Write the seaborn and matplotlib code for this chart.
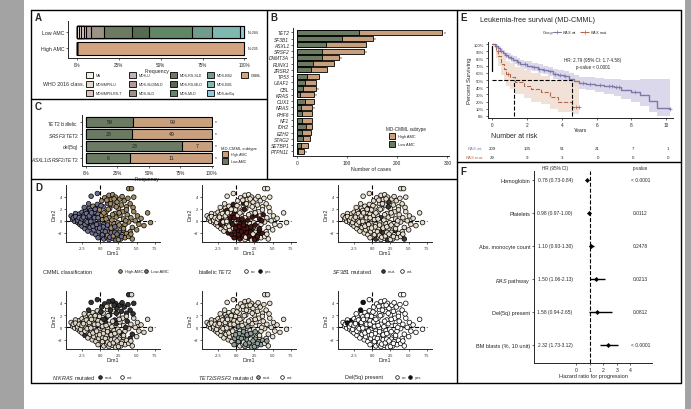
import numpy as np
import pandas as pd
import matplotlib
matplotlib.use("Agg")
import matplotlib.pyplot as plt
import seaborn as sns
from matplotlib.lines import Line2D
from matplotlib.patches import Rectangle

# ------------------------------------------------------------------ DATA
# Panel A
who_classes = ["NA", "MDS/MPN-U", "MDS/MPN-RS-T", "MDS-U", "MDS-SLD/MLD", "MDS-SLD",
               "MDS-RS-SLD", "MDS-RS-MLD", "MDS-MLD", "MDS-EB2", "MDS-EB1", "MDS-del5q", "CMML"]
who_colors = ["#f4efe2", "#e3d9d3", "#d9c3bb", "#c4b2b0", "#b09a98", "#9b9484",
              "#6d7a62", "#566b4f", "#5f8766", "#6f9c8c", "#7eb8ae", "#8fcbdc", "#d3a47f"]
low_amc_counts = [3, 4, 4, 4, 9, 22, 48, 29, 72, 34, 48, 7, 0]
high_amc_counts = [0, 0, 0, 0, 0, 0, 0, 0, 0, 0, 0, 0, 205]
amc_groups = ["Low AMC", "High AMC"]
amc_n_labels = ["N=284", "N=205"]

# Panel B
genes = ["TET2", "SF3B1", "ASXL1", "SRSF2", "DNMT3A", "RUNX1", "ZRSR2", "TP53", "U2AF1", "CBL",
         "KRAS", "CUX1", "NRAS", "PHF6", "NF1", "IDH2", "EZH2", "STAG2", "SETBP1", "PTPN11"]
gene_total = [289, 151, 137, 133, 83, 73, 59, 43, 37, 37, 33, 33, 29, 29, 29, 29, 27, 25, 21, 13]
gene_low = [123, 90, 57, 50, 50, 32, 28, 20, 15, 11, 5, 15, 7, 10, 9, 17, 10, 12, 7, 1]
gene_star = [1, 1, 0, 1, 1, 0, 0, 0, 0, 1, 1, 0, 1, 0, 0, 0, 0, 0, 0, 1]

# Panel C
c_labels = [r"$\it{TET2}$ biallelic", r"$\it{SRSF2/TET2}$", "del(5q)", r"$\it{ASXL1/SRSF2/TET2}$"]
c_low = [59, 28, 23, 6]
c_high = [99, 49, 7, 11]

# Panel D (PCA coordinates)
dim1 = [-4.0, -3.8, -3.6, -3.5, -3.3, -3.2, -3.1, -3.0, -2.9, -2.8,
        -2.7, -2.6, -2.5, -2.5, -2.4, -2.3, -2.2, -2.1, -2.0, -2.0,
        -1.9, -1.8, -1.7, -1.7, -1.6, -1.5, -1.4, -1.4, -1.3, -1.2,
        -1.1, -1.1, -1.0, -0.9, -0.9, -0.8, -0.7, -0.6, -0.6, -0.5,
        -0.4, -0.4, -0.3, -0.2, -0.2, -0.1, -0.1, -2.2, -1.6, -3.4,
        -1.25, -0.4, 0.2, 0.4, 0.6, 0.8, 1.0, 1.2, 1.3, 1.5,
        1.7, 1.8, 2.0, 2.1, 2.3, 2.5, 2.7, 2.9, 3.1, 3.3,
        3.6, 3.8, 3.9, 4.3, 4.6, 4.1, 0.1, 0.9, 1.9, 3.0,
        0.3, 0.5, 0.7, 1.0, 1.2, 1.4, 1.6, 1.9, 2.2, 2.4,
        2.7, 2.9, 3.2, 3.4, 3.7, 3.9, 4.2, 4.4, 4.6, 4.8,
        5.1, 5.3, 5.6, 6.0, 6.5, 6.9, 5.0, 4.1, 3.6, 0.0,
        0.1, 0.3, 0.5, 0.6, 0.8, 0.9, 1.1, 1.2, 1.4, 1.6,
        1.7, 1.9, 2.1, 2.2, 2.4, 2.6, 2.8, 3.0, 3.2, 3.4,
        3.6, 3.9, 4.2, 4.4, 0.4, 1.0, 1.5, 2.0, 2.6, -0.3,
        -3.7, -3.4, -3.1, -2.9, -2.7, -2.5, -2.3, -2.1, -1.9, -1.8,
        -1.5, -1.3, -1.2, -1.0, -0.8, -0.7, -0.5, -0.3, -0.1, 0.2,
        0.3, 0.7, 1.0, 1.3, 1.5, 1.8, 2.0, 2.3, 2.5, 2.9,
        0.5, 1.1, 1.4, 2.2, 2.6, 3.5, 0.8, 1.7, 4.5, 3.2]
dim2 = [0.8, 0.2, 0.6, -0.1, 0.4, 0.9, -0.3, 0.3, 1.1, -0.6,
        0.6, 0.0, 1.4, -0.9, 0.4, -0.3, 1.0, -1.3, 0.1, 1.7,
        -0.7, 0.7, -1.7, 1.3, -0.2, 2.1, 0.4, -1.1, 1.7, -0.5,
        -2.0, 0.9, 2.4, -1.5, 0.1, 1.4, -0.8, 2.0, -2.3, 0.6,
        -1.2, 2.7, 1.1, -0.4, -1.8, 1.8, 0.3, 2.2, 2.8, 1.2,
        4.05, 4.5, 3.3, 2.3, 3.8, 1.5, 2.9, 4.2, 2.0, 3.5,
        4.3, 2.6, 1.2, 3.9, 3.1, 2.0, 3.6, 2.6, 1.5, 3.3,
        2.3, 3.7, 5.3, 5.3, 3.9, 2.8, 2.5, 3.4, 3.6, 4.0,
        0.2, -0.6, 0.8, -0.2, 0.5, -0.9, 0.1, -0.5, 0.6, -0.3,
        0.9, -1.0, 0.3, -0.6, 1.0, -0.2, 0.5, -1.1, 1.5, 0.0,
        0.8, -0.6, 0.4, -0.8, 1.3, -0.3, -1.5, -1.8, 1.8, -0.9,
        -2.6, -1.6, -3.0, -2.2, -1.3, -2.7, -1.9, -3.1, -2.4, -1.6,
        -2.9, -2.1, -3.2, -1.5, -2.6, -1.9, -3.0, -2.3, -1.6, -2.8,
        -2.1, -2.6, -2.2, -3.0, -1.0, -0.7, -1.2, -1.0, -0.7, -2.8,
        0.5, 0.7, 0.1, 0.5, -0.3, 0.3, 0.6, -0.6, 1.2, -0.2,
        0.8, -0.1, 1.3, -0.9, 0.5, 1.9, -0.6, 0.5, -1.2, 0.9,
        -2.3, -1.8, -2.4, -2.7, -2.0, -2.5, -1.9, -2.2, -3.1, -2.6,
        1.3, 1.9, 2.8, 2.3, 1.3, 0.0, 0.3, 1.0, 2.2, -1.3]
cls_amc = ("LLLLLLLLLL LLLLLLLLHL LLLLLLLLLL LLHLLLLLLL LLLLLHLLLL "
           "LLHLHHLHHH HHHHHHHHHH HHHHHHLHHH "
           "HLHHHHHHHH HHHHHHHHHH HHHHHHHHHL "
           "LLLHLLHLLH LHLHHLHHHH HHHHLLHLHL "
           "LLLLLLLLLL LLLLLLLLLH LLHLLHLLHL HHHHHHHHHH")
cls_tet2 = ("NNNNNNNNNN NNNNNNNNYN NNNNYNNNYN YNNNYNYNYN NYYNYNNNNN "
            "NNNNNNYNNN NNNNNNNNNN NNNNNNNNNN "
            "YYNYNYYNYN YNYNYNNNNN NNNNNNNNNY "
            "YYYNYYYNYY YYNYYNYYYN YNNNYYYYYY "
            "NNNNNNNYNN NNNNYNYYYN YYYNYYYNYY NYNNNYYNNY")
cls_sf3b1 = ("WWWWWWWWWW WWWWWWWWWW WWWMWWWWWW WWWWWWWMWW WWWWWWWWWW "
             "WWWWWWWWWW WWWWMWWWWW WWWWWWWWWW "
             "WWWWMWWWWW WWWWWWWWWW WWWWWWWWWW "
             "WWMWWWMWWW WWMWWWWWMW WWWMWWWWWW "
             "WWWWWWWWWW WWWWWWWWWW WWWWMWWWWW WWWMWWWWWW")
cls_nkras = ("WWWWWWWWWW WWWWWWWMWW WWWWWWWWWW WWWWWWWWWM WWWWWWWWMW "
             "MMMWMMWMMW MWMMMWMMWM MMMWMMMWMM "
             "WWMWWMWWMW WMWWMWWMWW WWWWWWWMWW "
             "WWWWWWWWWW WWWWWWWWWW WWWWWWWWWW "
             "WWWWWWWWWW WWWWWWWWWW WWWWWWWWWW MWMMWMWWMW")
cls_tet2srsf2 = ("WWWWWWWWWW WWWWMWWWWW WWWWWWWWMW WWWWWWWMWW WWWWMWWWWW "
                 "WWWWWWWWWW WWWWWWWWWW WWWWWWWWWW "
                 "MWWMWWMWWW WMWWWWWWWW WWWWWWWWWM "
                 "MMWMMWMMWM MWMMWMMMWM MWMWMMMMMM "
                 "WWWWWWWWWW WWWWWWWWMW MMWMMMWMMM WWWWWWWWWW")
cls_del5q = ("NNYNNYNNYN NNNNNNNNNN NYNNNNNNNN NNNNNNNNNN NNNNNNNNYN "
             "YNNNNNNNNN NNNNNNNNNN NNNNNNNNNN "
             "NNNNNNNNNN NNNNNNNNNN NNNNNNNNNN "
             "NNNNNNNNNN NNNNNNNNNN NNNNNNNNNN "
             "NYNNNNNNNN NNNNNNNNNN NNNNNNNNNN NNNNNNNNNN")

# Panel E (Kaplan-Meier)
wt_time = [0, 0.15, 0.3, 0.45, 0.6, 0.75, 0.9, 1.05, 1.2, 1.4, 1.6, 1.8, 2.0, 2.3, 2.6, 2.9,
           3.2, 3.5, 3.8, 4.1, 4.4, 4.7, 5.0, 5.4, 5.9, 6.4, 7.0, 7.4, 8.0, 8.5, 9.0, 9.5, 10.2]
wt_surv = [1.00, 0.97, 0.94, 0.91, 0.88, 0.85, 0.82, 0.80, 0.78, 0.75, 0.73, 0.72, 0.70, 0.68, 0.66, 0.64,
           0.62, 0.59, 0.57, 0.55, 0.52, 0.49, 0.46, 0.45, 0.43, 0.41, 0.40, 0.36, 0.33, 0.29, 0.21, 0.11, 0.10]
wt_lo = [1.00, 0.95, 0.91, 0.88, 0.84, 0.81, 0.78, 0.75, 0.73, 0.70, 0.68, 0.66, 0.64, 0.62, 0.60, 0.58,
         0.55, 0.52, 0.50, 0.47, 0.44, 0.41, 0.38, 0.36, 0.33, 0.31, 0.28, 0.23, 0.19, 0.14, 0.06, 0.00, 0.00]
wt_hi = [1.00, 0.99, 0.97, 0.95, 0.92, 0.89, 0.87, 0.85, 0.83, 0.80, 0.78, 0.77, 0.76, 0.74, 0.72, 0.70,
         0.68, 0.66, 0.64, 0.62, 0.60, 0.57, 0.54, 0.54, 0.53, 0.52, 0.52, 0.50, 0.50, 0.51, 0.51, 0.51, 0.51]
wt_censor = [0.2, 0.5, 0.8, 1.1, 1.5, 1.9, 2.4, 2.7, 3.0, 3.3, 3.6, 3.9, 4.2, 5.2, 5.6, 6.2, 6.7, 6.9,
             7.1, 7.3, 8.2, 10.2]
mut_time = [0, 0.2, 0.35, 0.5, 0.65, 0.8, 1.0, 1.3, 1.8, 2.2, 2.8, 3.3, 3.8, 4.6, 5.0]
mut_surv = [1.00, 0.90, 0.83, 0.72, 0.65, 0.58, 0.54, 0.47, 0.42, 0.37, 0.33, 0.26, 0.20, 0.12, 0.12]
mut_lo = [1.00, 0.80, 0.70, 0.57, 0.49, 0.42, 0.37, 0.30, 0.25, 0.20, 0.16, 0.10, 0.06, 0.02, 0.02]
mut_hi = [1.00, 1.00, 0.97, 0.89, 0.83, 0.77, 0.74, 0.68, 0.64, 0.60, 0.56, 0.50, 0.48, 0.50, 0.50]
mut_censor = [0.3, 0.9, 4.8, 5.0]
median_wt, median_mut = 4.6, 1.25
risk_times = [0, 2, 4, 6, 8, 10]
risk_wt = [209, 105, 51, 21, 7, 1]
risk_mut = [29, 9, 3, 0, 0, 0]

# Panel F (forest)
covariates = ["Hemoglobin", "Platelets", "Abs. monocyte count", r"$\it{RAS}$ pathway",
              "Del(5q) present", "BM blasts (%, 10 unit)"]
hr = [0.78, 0.98, 1.10, 1.50, 1.58, 2.32]
ci_lo = [0.73, 0.97, 0.93, 1.06, 0.94, 1.73]
ci_hi = [0.84, 1.00, 1.30, 2.13, 2.65, 3.12]
pvals = ["< 0.0001", "0.0112", "0.2478", "0.0213", "0.0812", "< 0.0001"]

# ------------------------------------------------------------------ STYLE
sns.set_theme(style="ticks")
plt.rcParams['font.family'] = ['Liberation Sans', 'DejaVu Sans']
plt.rcParams['mathtext.fontset'] = 'custom'
plt.rcParams['mathtext.rm'] = 'Liberation Sans'
plt.rcParams['mathtext.it'] = 'Liberation Sans:italic'
plt.rcParams['axes.linewidth'] = 0.7
plt.rcParams['xtick.major.width'] = 0.5
plt.rcParams['ytick.major.width'] = 0.5
plt.rcParams['xtick.major.size'] = 1.5
plt.rcParams['ytick.major.size'] = 1.5
plt.rcParams['xtick.major.pad'] = 1.2
plt.rcParams['ytick.major.pad'] = 1.2

TAN = "#c9a07e"
GREEN = "#6b7a62"
WT_COL = "#7d78a6"
MUT_COL = "#b0664a"

W, H = 691, 410
fig = plt.figure(figsize=(6.91, 4.10), dpi=100)
fig.patch.set_facecolor("white")


def fx(x):
    return x / W


def fy(y):
    return 1 - y / H


def px_axes(x0, y0, x1, y1):
    ax = fig.add_axes([x0 / W, 1 - y1 / H, (x1 - x0) / W, (y1 - y0) / H])
    ax.set_facecolor("none")
    return ax


def fline(x0, y0, x1, y1, **kw):
    fig.add_artist(Line2D([fx(x0), fx(x1)], [fy(y0), fy(y1)], transform=fig.transFigure,
                          color=kw.get("color", "black"), lw=kw.get("lw", 1.0), ls=kw.get("ls", "-")))


def fmarker(x, y, fc, ms=2.6):
    fig.add_artist(Line2D([fx(x)], [fy(y)], transform=fig.transFigure, marker="o", ms=ms,
                          mfc=fc, mec="black", mew=0.5, lw=0))


def fpatch(x, y, w, h, fc):
    fig.add_artist(Rectangle((fx(x), fy(y + h)), w / W, h / H, transform=fig.transFigure,
                             facecolor=fc, edgecolor="black", lw=0.6))


# page background bands
fig.add_artist(Rectangle((0, 0), 24 / W, 1, transform=fig.transFigure, color="#a3a3a3", lw=0))
fig.add_artist(Rectangle((685 / W, 0), 6 / W, 1, transform=fig.transFigure, color="#a3a3a3", lw=0))

# frame
fline(31, 11, 681, 11)
fline(31, 11, 31, 384)
fline(31, 384, 681, 384)
fline(681, 11, 681, 384)
fline(267, 11, 267, 180)
fline(457, 11, 457, 384)
fline(31, 100, 267, 100)
fline(31, 180, 457, 180)
fline(457, 163, 681, 163)

for lab, (x, y) in {"A": (35, 18), "B": (270, 18), "C": (35, 107), "D": (35, 188),
                    "E": (460, 18), "F": (460, 172)}.items():
    fig.text(fx(x), fy(y), lab, fontsize=7, fontweight="bold", ha="left", va="center")

# ------------------------------------------------------------------ PANEL A
axA = px_axes(68, 22, 246, 59)
low_freq = np.array(low_amc_counts) / sum(low_amc_counts)
high_freq = np.array(high_amc_counts) / sum(high_amc_counts)
for i in reversed(range(len(who_classes))):
    sns.barplot(x=[low_freq[:i + 1].sum(), high_freq[:i + 1].sum()], y=amc_groups, orient="h",
                color=who_colors[i], saturation=1, edgecolor="black", linewidth=0.8, width=0.76, ax=axA)
axA.set_xlim(-0.054, 1.01)
axA.set_ylim(1.58, -0.67)
axA.set_xticks([0, 0.25, 0.5, 0.75, 1.0])
axA.set_xticklabels(["0%", "25%", "50%", "75%", "100%"], fontsize=3.3)
axA.tick_params(axis="y", labelsize=3.8)
axA.set_xlabel("Frequency", fontsize=3.8, labelpad=1)
axA.set_ylabel("")
sns.despine(ax=axA)
for j, t in enumerate(amc_n_labels):
    axA.text(1.02, j, t, fontsize=2.6, va="center", ha="left")

# legend A
colx = [86, 129, 170, 207, 241]
rowy = [76, 85, 94]
fig.text(fx(84), fy(rowy[1]), "WHO 2016 class.", fontsize=3.8, ha="right", va="center")
for k, cls in enumerate(who_classes):
    c, r = divmod(k, 3)
    fpatch(colx[c], rowy[r] - 2.8, 7, 5.6, who_colors[k])
    fig.text(fx(colx[c] + 10), fy(rowy[r]), cls, fontsize=2.6, ha="left", va="center")

# ------------------------------------------------------------------ PANEL B
axB = px_axes(293, 29, 449, 157)
sns.barplot(x=gene_total, y=genes, orient="h", color=TAN, saturation=1, edgecolor="black",
            linewidth=0.6, width=0.8, ax=axB)
sns.barplot(x=gene_low, y=genes, orient="h", color=GREEN, saturation=1, edgecolor="black",
            linewidth=0.6, width=0.8, ax=axB)
axB.set_xlim(-8, 303)
axB.set_ylim(19.75, -0.7)
axB.set_xticks([0, 100, 200, 300])
axB.tick_params(axis="x", labelsize=3.5)
axB.set_yticks(range(len(genes)))
axB.set_yticklabels(genes, fontsize=3.5, fontstyle="italic")
axB.set_xlabel("Number of cases", fontsize=3.8, labelpad=1)
axB.set_ylabel("")
sns.despine(ax=axB)
for j, s in enumerate(gene_star):
    if s:
        axB.text(gene_total[j] + 3, j, "*", fontsize=3.5, va="center", ha="left")
fig.text(fx(386), fy(130), "MD-CMML subtype", fontsize=3.3, ha="left", va="center")
fpatch(389, 134, 6, 6, TAN)
fpatch(389, 142, 6, 6, GREEN)
fig.text(fx(398), fy(137), "High AMC", fontsize=2.8, ha="left", va="center")
fig.text(fx(398), fy(145), "Low AMC", fontsize=2.8, ha="left", va="center")

# ------------------------------------------------------------------ PANEL C
axC = px_axes(82, 116, 213, 167)
c_low_f = np.array(c_low) / (np.array(c_low) + np.array(c_high))
sns.barplot(x=[1.0] * len(c_labels), y=c_labels, orient="h", color=TAN, saturation=1,
            edgecolor="black", linewidth=0.8, width=0.83, ax=axC)
sns.barplot(x=c_low_f, y=c_labels, orient="h", color=GREEN, saturation=1,
            edgecolor="black", linewidth=0.8, width=0.83, ax=axC)
for j in range(len(c_labels)):
    axC.text(c_low_f[j] / 2, j, str(c_low[j]), fontsize=3.8, ha="center", va="center", color="#222222")
    axC.text((1 + c_low_f[j]) / 2, j, str(c_high[j]), fontsize=3.8, ha="center", va="center", color="#222222")
    axC.text(1.025, j, "*", fontsize=3.5, ha="left", va="center")
axC.set_xlim(-0.032, 1.01)
axC.set_ylim(3.67, -0.58)
axC.set_xticks([0, 0.25, 0.5, 0.75, 1.0])
axC.set_xticklabels(["0%", "25%", "50%", "75%", "100%"], fontsize=3.3)
axC.tick_params(axis="y", labelsize=3.5)
axC.set_xlabel("Frequency", fontsize=3.8, labelpad=1)
axC.set_ylabel("")
sns.despine(ax=axC)
fig.text(fx(221), fy(149), "MD-CMML subtype", fontsize=3.0, ha="left", va="center")
fpatch(222, 152, 6, 6, TAN)
fpatch(222, 159, 6, 6, GREEN)
fig.text(fx(231), fy(155), "High AMC", fontsize=2.6, ha="left", va="center")
fig.text(fx(231), fy(162), "Low AMC", fontsize=2.6, ha="left", va="center")

# ------------------------------------------------------------------ PANEL D
def clean(s):
    return list(s.replace(" ", ""))


dfD = pd.DataFrame({"Dim1": dim1, "Dim2": dim2,
                    "amc": clean(cls_amc), "tet2": clean(cls_tet2), "sf3b1": clean(cls_sf3b1),
                    "nkras": clean(cls_nkras), "ts": clean(cls_tet2srsf2), "del5q": clean(cls_del5q)})

d_specs = [
    ("amc", {"H": "#a08c66", "L": "#6e6f8e"}, (66, 186, 160, 243)),
    ("tet2", {"N": "#ebe1d0", "Y": "#4a1414"}, (202, 186, 296, 243)),
    ("sf3b1", {"M": "#3a3a3a", "W": "#e6dccb"}, (338, 186, 432, 243)),
    ("nkras", {"M": "#333333", "W": "#ddd5c5"}, (66, 292, 160, 350)),
    ("ts", {"M": "#8da09a", "W": "#e6ddcc"}, (202, 292, 296, 350)),
    ("del5q", {"N": "#ffffff", "Y": "#111111"}, (338, 292, 432, 350)),
]
for col, pal, rect in d_specs:
    ax = px_axes(*rect)
    ax.axvline(0, color="black", ls="--", lw=0.8, zorder=0)
    ax.axhline(0, xmax=0.95, color="black", ls="--", lw=0.8, zorder=0)
    sns.scatterplot(data=dfD, x="Dim1", y="Dim2", hue=col, palette=pal, s=11, edgecolor="black",
                    linewidth=0.5, legend=False, ax=ax, zorder=2)
    ax.set_xlim(-4.7, 8.2)
    ax.set_ylim(-3.5, 5.9)
    ax.set_xticks([-2.5, 0, 2.5, 5, 7.5])
    ax.set_xticklabels(["-2.5", "0.0", "2.5", "5.0", "7.5"])
    ax.set_yticks([-2, 0, 2, 4])
    ax.tick_params(labelsize=2.8)
    ax.set_xlabel("Dim1", fontsize=3.8, labelpad=0.5)
    ax.set_ylabel("Dim2", fontsize=3.8, labelpad=1)
    sns.despine(ax=ax)

# legends under scatter plots
leg_rows = [
    (272, [("t", 43, "CMML classification", 4.0), ("m", 120, "#a08c66"), ("t", 125, "High AMC", 3.0),
           ("m", 146, "#6e6f8e"), ("t", 151, "Low AMC", 3.0)]),
    (272, [("t", 198, r"biallelic $\it{TET2}$", 4.0), ("m", 246, "#ffffff"), ("t", 251, "no", 3.0),
           ("m", 260, "#1a1a1a"), ("t", 265, "yes", 3.0)]),
    (272, [("t", 332, r"$\it{SF3B1}$ mutated", 4.0), ("m", 383, "#3a3a3a"), ("t", 388, "mut.", 3.0),
           ("m", 402, "#ffffff"), ("t", 407, "wt.", 3.0)]),
    (378, [("t", 52, r"$\it{N/KRAS}$ mutated", 4.0), ("m", 100, "#333333"), ("t", 105, "mut.", 3.0),
           ("m", 122, "#ffffff"), ("t", 127, "wt.", 3.0)]),
    (378, [("t", 198, r"$\it{TET2/SRSF2}$ mutated", 4.0), ("m", 258, "#8da09a"), ("t", 263, "mut.", 3.0),
           ("m", 282, "#ffffff"), ("t", 287, "wt.", 3.0)]),
    (378, [("t", 345, "Del(5q) present", 4.0), ("m", 397, "#ffffff"), ("t", 402, "no", 3.0),
           ("m", 410, "#111111"), ("t", 415, "yes", 3.0)]),
]
for y, items in leg_rows:
    for it in items:
        if it[0] == "t":
            fig.text(fx(it[1]), fy(y), it[2], fontsize=it[3], ha="left", va="center")
        else:
            fmarker(it[1], y, it[2])

# ------------------------------------------------------------------ PANEL E
axE = px_axes(488, 43, 673, 119)
axE.fill_between(wt_time, wt_lo, wt_hi, step="post", color="#dcd8ec", lw=0)
axE.fill_between(mut_time, mut_lo, mut_hi, step="post", color="#f0dccf", alpha=0.85, lw=0)
sns.lineplot(x=wt_time, y=wt_surv, drawstyle="steps-post", color=WT_COL, lw=1.0, ax=axE, estimator=None)
sns.lineplot(x=mut_time, y=mut_surv, drawstyle="steps-post", color=MUT_COL, lw=0.8, ls="--",
             ax=axE, estimator=None)
wt_c_y = [wt_surv[np.searchsorted(wt_time, t, side="right") - 1] for t in wt_censor]
mut_c_y = [mut_surv[np.searchsorted(mut_time, t, side="right") - 1] for t in mut_censor]
axE.plot(wt_censor, wt_c_y, ls="none", marker="+", ms=3, mew=0.5, color=WT_COL)
axE.plot(mut_censor, mut_c_y, ls="none", marker="+", ms=3, mew=0.5, color=MUT_COL)
axE.plot([0, median_wt], [0.5, 0.5], color="black", ls="--", lw=0.8)
axE.plot([median_mut, median_mut], [0, 0.5], color="black", ls="--", lw=0.8)
axE.plot([median_wt, median_wt], [0, 0.5], color="black", ls="--", lw=0.8)
axE.plot([0, 0], [0.63, 0.98], color="black", lw=0.9)
axE.set_xlim(-0.25, 10.4)
axE.set_ylim(-0.03, 1.03)
axE.set_xticks(risk_times)
axE.set_yticks(np.arange(0, 1.01, 0.1))
axE.set_yticklabels([f"{int(round(v * 100))}%" for v in np.arange(0, 1.01, 0.1)])
axE.tick_params(axis="x", labelsize=3.4)
axE.tick_params(axis="y", labelsize=3.0)
axE.set_xlabel("Years", fontsize=3.8, labelpad=0.5)
axE.set_ylabel("Percent Surviving", fontsize=4.2, labelpad=1)
sns.despine(ax=axE)
axE.text(5.8, 0.78, "HR: 2.79 (95% CI: 1.7-4.58)", fontsize=3.3, ha="center", va="center")
axE.text(5.8, 0.69, "p-value < 0.0001", fontsize=3.3, ha="center", va="center")
fig.text(fx(538), fy(20), "Leukemia-free survival (MD-CMML)", fontsize=5.2, ha="center", va="center")
fig.text(fx(543), fy(33), "Group", fontsize=2.8, ha="left", va="center")
fline(553, 33, 561, 33, color=WT_COL, lw=0.8)
fig.add_artist(Line2D([fx(557)], [fy(33)], transform=fig.transFigure, marker="+", ms=2.5, color=WT_COL, mew=0.5))
fig.text(fx(562), fy(33), r"$\it{RAS}$ wt.", fontsize=2.8, ha="left", va="center")
fline(580, 33, 589, 33, color=MUT_COL, lw=0.8, ls="--")
fig.add_artist(Line2D([fx(584.5)], [fy(33)], transform=fig.transFigure, marker="+", ms=2.5, color=MUT_COL, mew=0.5))
fig.text(fx(590), fy(33), r"$\it{RAS}$ mut.", fontsize=2.8, ha="left", va="center")

fig.text(fx(491), fy(136), "Number at risk", fontsize=5.0, ha="left", va="center")
for t, a, b in zip(risk_times, risk_wt, risk_mut):
    xp = 492 + 17.6 * t
    fig.text(fx(xp), fy(149), str(a), fontsize=3.2, ha="center", va="center")
    fig.text(fx(xp), fy(158), str(b), fontsize=3.2, ha="center", va="center")
fig.text(fx(484), fy(149), r"$\it{RAS}$ wt.", fontsize=3.0, ha="right", va="center", color=WT_COL)
fig.text(fx(484), fy(158), r"$\it{RAS}$ mut.", fontsize=3.0, ha="right", va="center", color=MUT_COL)

# ------------------------------------------------------------------ PANEL F
axF = px_axes(534, 172, 652, 364)
ypos = list(range(len(covariates)))
axF.axvline(1, color="black", ls="--", lw=0.8)
axF.hlines(ypos, ci_lo, ci_hi, color="black", lw=1.0)
sns.scatterplot(x=hr, y=ypos, color="black", s=5, marker="D", edgecolor="black", linewidth=0.3,
                ax=axF, zorder=3)
for j in ypos:
    axF.text(-1.55, j, f"{hr[j]:.2f} ({ci_lo[j]:.2f}-{ci_hi[j]:.2f})", fontsize=3.5,
             ha="center", va="center")
    axF.text(4.75, j, pvals[j], fontsize=3.5, ha="center", va="center")
axF.set_xlim(-3.1, 5.6)
axF.set_ylim(5.55, -0.27)
axF.set_xticks([0, 1, 2, 3, 4])
axF.set_yticks(ypos)
axF.set_yticklabels(covariates)
axF.tick_params(axis="x", labelsize=3.6)
axF.tick_params(axis="y", labelsize=4.0)
axF.set_xlabel("Hazard ratio for progression", fontsize=4.0, labelpad=1)
sns.despine(ax=axF)
fig.text(fx(555), fy(169), "HR (95% CI)", fontsize=3.3, ha="center", va="center")
fig.text(fx(640), fy(169), "p-value", fontsize=3.3, ha="center", va="center")

fig.savefig("out.png", dpi=100, facecolor="white")
